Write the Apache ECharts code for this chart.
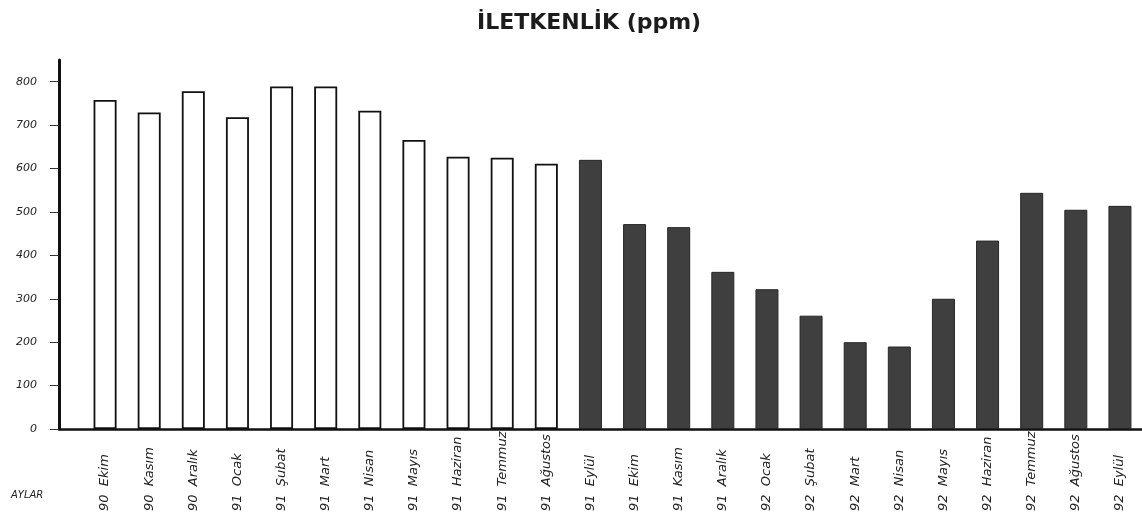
<!DOCTYPE html>
<html>
<head>
<meta charset="utf-8">
<title>İLETKENLİK (ppm)</title>
<script src="https://cdn.jsdelivr.net/npm/echarts@6/dist/echarts.min.js"></script>
<style>
  html, body { margin: 0; padding: 0; background: #ffffff; }
  #chart { width: 1142px; height: 521px; }
</style>
</head>
<body>
<div id="chart"></div>
<script>
// Monthly conductivity readings, Oct 1990 – Sep 1992
const months = [
  '90 Ekim', '90 Kasım', '90 Aralık', '91 Ocak', '91 Şubat', '91 Mart',
  '91 Nisan', '91 Mayıs', '91 Haziran', '91 Temmuz', '91 Ağustos',
  '91 Eylül', '91 Ekim', '91 Kasım', '91 Aralık', '92 Ocak', '92 Şubat',
  '92 Mart', '92 Nisan', '92 Mayıs', '92 Haziran', '92 Temmuz', '92 Ağustos', '92 Eylül'
];
// first period (open bars), 90 Ekim – 91 Ağustos
const firstPeriod = [758, 729, 778, 718, 789, 789, 733, 666, 627, 625, 611];
// second period (filled bars), 91 Eylül – 92 Eylül
const secondPeriod = [620, 472, 465, 362, 322, 261, 200, 190, 300, 434, 544, 505, 514];
// value axis tick labels
const yTicks = [0, 100, 200, 300, 400, 500, 600, 700, 800];
const yMax = 850;

const gap = (n) => new Array(n).fill('-');
const openData = firstPeriod.concat(gap(secondPeriod.length));
const filledData = gap(firstPeriod.length).concat(secondPeriod);

const chart = echarts.init(document.getElementById('chart'), null, { renderer: 'canvas' });

const option = {
  animation: false,
  backgroundColor: '#ffffff',
  title: [
    {
      text: 'İLETKENLİK (ppm)',
      left: 472,
      top: 7,
      textStyle: {
        fontFamily: 'DejaVu Sans',
        fontWeight: 'bold',
        fontSize: 22,
        color: '#1c1c1c'
      }
    },
    {
      text: 'AYLAR',
      left: 6,
      top: 485,
      textStyle: {
        fontFamily: 'DejaVu Sans',
        fontStyle: 'italic',
        fontWeight: 'normal',
        fontSize: 10,
        color: '#222222'
      }
    }
  ],
  grid: [
    // frame: value axis and baseline
    { left: 59, right: 0, top: 60, bottom: 92 },
    // bars and month labels
    { left: 83, width: 1065, top: 60, bottom: 92 }
  ],
  xAxis: [
    {
      gridIndex: 0,
      type: 'value',
      min: 0,
      max: 1,
      axisLine: { show: true, lineStyle: { color: '#111111', width: 2.5 } },
      axisTick: { show: false },
      axisLabel: { show: false },
      splitLine: { show: false }
    },
    {
      gridIndex: 1,
      type: 'category',
      data: months,
      axisLine: { show: false },
      axisTick: { show: false },
      axisLabel: {
        interval: 0,
        rotate: 90,
        align: 'left',
        verticalAlign: 'middle',
        margin: 82,
        fontFamily: 'DejaVu Sans',
        fontStyle: 'italic',
        fontSize: 13,
        color: '#222222',
        formatter: (v) => v.replace(' ', '  ')
      }
    }
  ],
  yAxis: [
    {
      gridIndex: 0,
      type: 'value',
      min: 0,
      max: yMax,
      axisLine: { show: true, lineStyle: { color: '#111111', width: 3 } },
      axisTick: {
        show: true,
        length: 9,
        customValues: yTicks,
        lineStyle: { color: '#333333', width: 1 }
      },
      axisLabel: {
        customValues: yTicks,
        margin: 22,
        fontFamily: 'DejaVu Sans',
        fontStyle: 'italic',
        fontSize: 11,
        color: '#222222'
      },
      splitLine: { show: false }
    },
    {
      gridIndex: 1,
      type: 'value',
      min: 0,
      max: yMax,
      show: false
    }
  ],
  series: [
    {
      name: 'first',
      type: 'bar',
      xAxisIndex: 1,
      yAxisIndex: 1,
      stack: 'period',
      barWidth: 23,
      data: openData,
      itemStyle: { color: '#ffffff', borderColor: '#111111', borderWidth: 1.8 }
    },
    {
      name: 'second',
      type: 'bar',
      xAxisIndex: 1,
      yAxisIndex: 1,
      stack: 'period',
      barWidth: 23,
      data: filledData,
      itemStyle: { color: '#3f3f3f', borderColor: '#262626', borderWidth: 1 }
    }
  ]
};

chart.setOption(option);
</script>
</body>
</html>
